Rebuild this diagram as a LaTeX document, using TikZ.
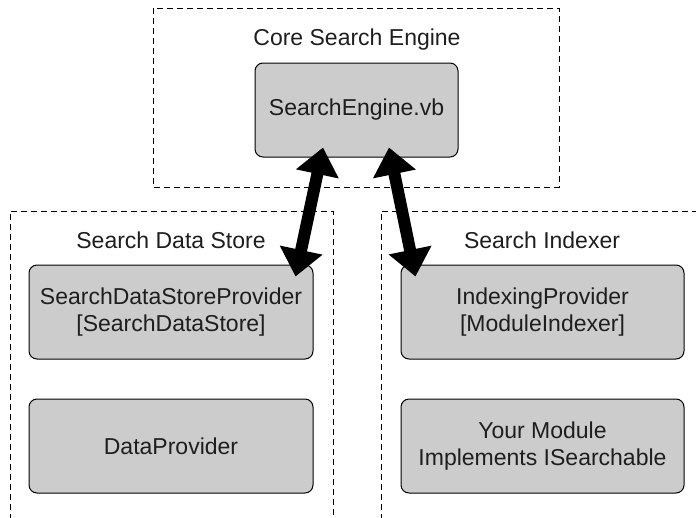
\documentclass[tikz,border=0pt]{standalone}
\usepackage{fontspec}
\setmainfont{Liberation Sans}
\definecolor{boxgray}{RGB}{204,204,204}
\definecolor{textdark}{RGB}{30,30,30}
\usetikzlibrary{arrows.meta,calc}

\begin{document}
\begin{tikzpicture}[x=1pt, y=1pt,
    module/.style={rectangle, draw=black, fill=boxgray, line width=1pt,
                minimum width=284pt, minimum height=94pt, align=center,
                rounded corners=8pt, font=\fontsize{23}{27}\selectfont, text=textdark},
    group/.style={draw=black, dash pattern=on 6pt off 4pt, line width=1pt},
    grouplabel/.style={anchor=base, font=\fontsize{23}{27}\selectfont, text=textdark},
    bigarrow/.style={{Triangle[length=27pt,width=42pt]}-{Triangle[length=27pt,width=42pt]},
                line width=12pt}]

\useasboundingbox (0,0) rectangle (696,-517);
\clip (0,0) rectangle (696,-517);

% Groups
\draw[group] (153,-8) rectangle (559,-187);
\draw[group] (10,-530) -- (10,-211) -- (333,-211) -- (333,-530);
\draw[group] (381,-530) -- (381,-211) -- (710,-211);

\node[grouplabel] (corelbl) at (357,-45) {Core Search Engine};
\node[grouplabel] (storelbl) at (171,-248) {Search Data Store};
\node[grouplabel] (indexlbl) at (542,-248) {Search Indexer};

% Core
\node[module, minimum width=203pt] (engine) at (356.5,-110) {SearchEngine.vb};

% Data store
\node[module] (dsp) at (171,-312) {SearchDataStoreProvider\\{}[SearchDataStore]};
\node[module] (dp) at (171,-446) {DataProvider};

% Indexer
\node[module, minimum width=283pt] (idx) at (542.5,-312) {IndexingProvider\\{}[ModuleIndexer]};
\node[module, minimum width=283pt] (mod) at (542.5,-446) {Your Module\\Implements ISearchable};

% Arrows
\draw[bigarrow] ([shift={(-33.5pt,10pt)}]engine.south) -- ([shift={(-18pt,-12pt)}]dsp.north east);
\draw[bigarrow] ([shift={(32.5pt,10pt)}]engine.south) -- ([shift={(15pt,-12pt)}]idx.north west);
\end{tikzpicture}
\end{document}
